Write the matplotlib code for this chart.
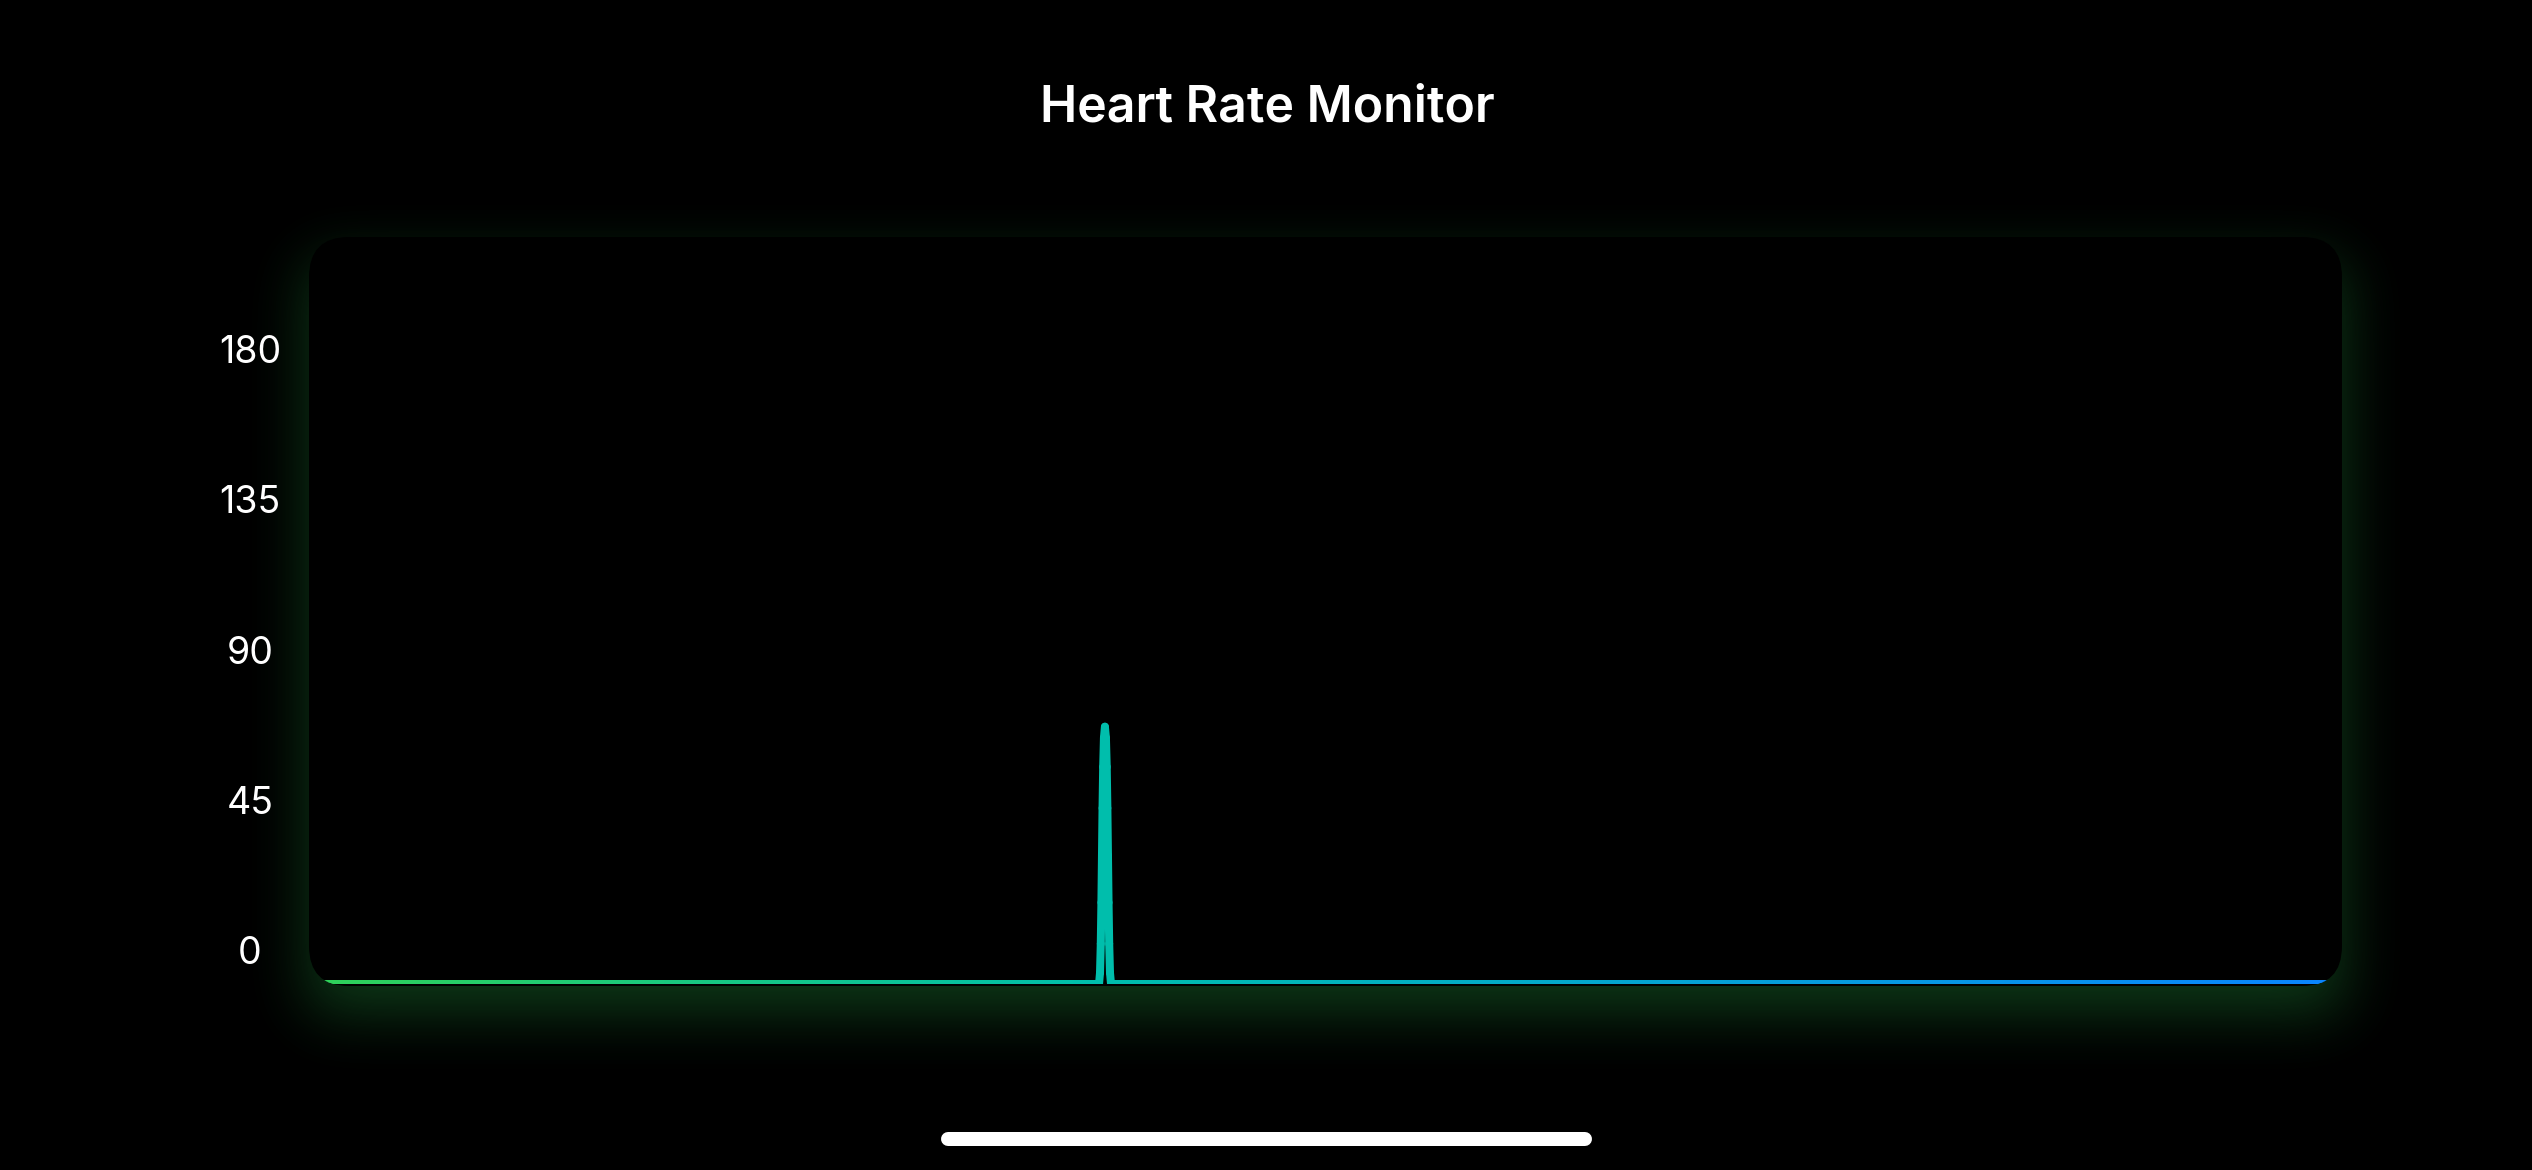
#!/usr/bin/env python

import numpy as np
import matplotlib
matplotlib.use("Agg")
import matplotlib.pyplot as plt
from matplotlib.patches import FancyBboxPatch
from matplotlib.collections import LineCollection
from matplotlib.colors import LinearSegmentedColormap
from matplotlib.path import Path

W, H = 2532, 1170
DPI = 100

TITLE = "Heart Rate Monitor"

# data: time as percent of the window, bpm readings
TIME = [0, 38.86, 39.15, 39.45, 100]
BPM = [0, 0, 62, 0, 0]
Y_MAX = 180

TICKS = [0, 45, 90, 135, 180]
TICK_LABELS = ["0", "45", "90", "135", "180"]

# card geometry in pixels (top-left origin)
CARD_X0, CARD_X1 = 309, 2342
CARD_Y0, CARD_Y1 = 237, 986
CARD_R = 40
PLOT_Y1 = 984  # where bpm 0 sits

GREEN = "#30D158"
TEAL = "#00BEAC"
BLUE = "#0A84FF"


def px_to_fig(x, y):
    return x / W, 1 - y / H


def gauss_blur_1d(step, sigma):
    k = np.arange(-4 * sigma, 4 * sigma + 1)
    kern = np.exp(-0.5 * (k / sigma) ** 2)
    kern /= kern.sum()
    return np.convolve(step, kern, mode="same")


def draw_glow(bg, sigma=30, dy=25, strength=0.28):
    xs = np.arange(W)
    ys = np.arange(H)
    px = gauss_blur_1d(((xs >= CARD_X0) & (xs <= CARD_X1)).astype(float), sigma)
    py = gauss_blur_1d(((ys >= CARD_Y0 + dy) & (ys <= CARD_Y1 + dy)).astype(float), sigma)
    glow = np.outer(py, px) * strength

    rgba = np.zeros((H, W, 4))
    rgba[..., :3] = matplotlib.colors.to_rgb(GREEN)
    rgba[..., 3] = glow
    bg.imshow(rgba, extent=(0, W, H, 0), interpolation="nearest", aspect="auto", zorder=1)


def smooth_path(xs, ys):
    # cubic curves with horizontal tangents at every reading
    verts = [(xs[0], ys[0])]
    codes = [Path.MOVETO]
    for i in range(len(xs) - 1):
        mx = (xs[i] + xs[i + 1]) / 2
        verts += [(mx, ys[i]), (mx, ys[i + 1]), (xs[i + 1], ys[i + 1])]
        codes += [Path.CURVE4] * 3
    return Path(verts, codes)


def gradient_segments(path, cmap):
    segs, cols = [], []
    for bez, code in path.iter_bezier():
        if code == Path.MOVETO:
            continue
        p0 = bez.control_points[0]
        p1 = bez.control_points[-1]
        n = max(8, int(abs(p1[0] - p0[0]) * 4))
        pts = bez(np.linspace(0, 1, n + 1))
        for a, b in zip(pts[:-1], pts[1:]):
            segs.append([a, b])
            cols.append(cmap((a[0] + b[0]) / 200))
    return segs, cols


def main():
    plt.rcParams["font.family"] = ["Inter", "DejaVu Sans"]

    fig = plt.figure(figsize=(W / DPI, H / DPI), dpi=DPI, facecolor="black")

    # background layer in pixel coordinates
    bg = fig.add_axes([0, 0, 1, 1])
    bg.set_xlim(0, W)
    bg.set_ylim(H, 0)
    bg.set_facecolor("black")
    bg.axis("off")

    draw_glow(bg)

    card = FancyBboxPatch(
        (CARD_X0 + CARD_R, CARD_Y0 + CARD_R),
        CARD_X1 - CARD_X0 - 2 * CARD_R,
        CARD_Y1 - CARD_Y0 - 2 * CARD_R,
        boxstyle=f"round,pad={CARD_R},rounding_size={CARD_R}",
        facecolor="black", edgecolor="none", zorder=2,
    )
    bg.add_patch(card)

    # home indicator
    bg.plot([948, 1585], [1138.5, 1138.5], color="white", lw=14 * 72 / DPI,
            solid_capstyle="round", zorder=3)

    # chart area = card
    x0, y0 = px_to_fig(CARD_X0, PLOT_Y1)
    x1, y1 = px_to_fig(CARD_X1, CARD_Y0)
    ax = fig.add_axes([x0, y0, x1 - x0, y1 - y0])
    ax.patch.set_alpha(0)
    ax.set_xlim(0, 100)
    ax.set_ylim(0, Y_MAX)
    ax.axis("off")

    cmap = LinearSegmentedColormap.from_list("hr", [(0, GREEN), (0.39, TEAL), (1, BLUE)])
    segs, cols = gradient_segments(smooth_path(TIME, BPM), cmap)
    lc = LineCollection(segs, colors=cols, linewidths=8 * 72 / DPI,
                        capstyle="round", joinstyle="round")
    ax.add_collection(lc)
    lc.set_clip_path(card)

    # y labels axis (its own scale, as in the original layout)
    lx, ly0 = px_to_fig(250, 954)
    _, ly1 = px_to_fig(250, 353)
    lab = fig.add_axes([lx, ly0, 0.001, ly1 - ly0])
    lab.patch.set_alpha(0)
    lab.set_ylim(0, Y_MAX)
    lab.set_yticks(TICKS)
    lab.set_yticklabels(TICK_LABELS)
    lab.tick_params(axis="y", length=0, pad=0, labelsize=27, labelcolor="white")
    for lbl in lab.get_yticklabels():
        lbl.set_horizontalalignment("center")
        lbl.set_verticalalignment("center")
    lab.set_xticks([])
    for s in lab.spines.values():
        s.set_visible(False)

    tx, ty = px_to_fig(1267.5, 121.7)
    fig.text(tx, ty, TITLE, color="white", fontsize=36, fontweight="semibold",
             ha="center", va="baseline")

    fig.savefig("out.png", dpi=DPI, facecolor="black")


if __name__ == "__main__":
    main()
